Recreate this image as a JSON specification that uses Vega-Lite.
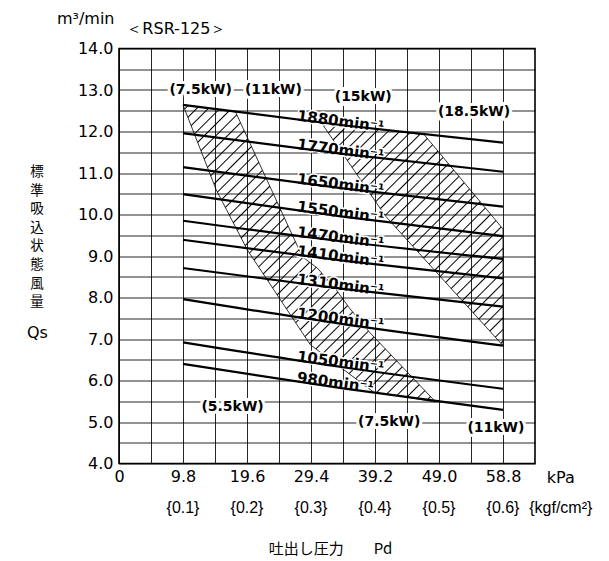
{
"$schema": "https://vega.github.io/schema/vega-lite/v6.json",
"width": 416, "height": 415,
"autosize": {"type": "none"},
"padding": {"left": 119, "top": 48.5, "right": 74, "bottom": 97.5},
"background": "white",
"config": {"view": {"stroke": "#000", "strokeWidth": 1.6}, "text": {"font": "DejaVu Sans", "color": "#000"}},
"datasets": {
"curves": [
{"c":"1880","x":9.8,"y":12.64},{"c":"1880","x":34.3,"y":12.15},{"c":"1880","x":58.8,"y":11.73},
{"c":"1770","x":9.8,"y":11.96},{"c":"1770","x":34.3,"y":11.46},{"c":"1770","x":58.8,"y":11.03},
{"c":"1650","x":9.8,"y":11.14},{"c":"1650","x":34.3,"y":10.63},{"c":"1650","x":58.8,"y":10.19},
{"c":"1550","x":9.8,"y":10.49},{"c":"1550","x":34.3,"y":9.95},{"c":"1550","x":58.8,"y":9.48},
{"c":"1470","x":9.8,"y":9.85},{"c":"1470","x":34.3,"y":9.35},{"c":"1470","x":58.8,"y":8.93},
{"c":"1410","x":9.8,"y":9.39},{"c":"1410","x":34.3,"y":8.89},{"c":"1410","x":58.8,"y":8.46},
{"c":"1310","x":9.8,"y":8.71},{"c":"1310","x":34.3,"y":8.21},{"c":"1310","x":58.8,"y":7.78},
{"c":"1200","x":9.8,"y":7.96},{"c":"1200","x":34.3,"y":7.36},{"c":"1200","x":58.8,"y":6.84},
{"c":"1050","x":9.8,"y":6.92},{"c":"1050","x":34.3,"y":6.32},{"c":"1050","x":58.8,"y":5.80},
{"c":"980","x":9.8,"y":6.40},{"c":"980","x":34.3,"y":5.81},{"c":"980","x":58.8,"y":5.29}
],
"speedLabels": [
{"t":"1880min⁻¹","x":27.2,"y":12.29},{"t":"1770min⁻¹","x":27.2,"y":11.60},{"t":"1650min⁻¹","x":27.2,"y":10.77},
{"t":"1550min⁻¹","x":27.2,"y":10.10},{"t":"1470min⁻¹","x":27.2,"y":9.49},{"t":"1410min⁻¹","x":27.2,"y":9.03},
{"t":"1310min⁻¹","x":27.2,"y":8.35},{"t":"1200min⁻¹","x":27.2,"y":7.53},{"t":"1050min⁻¹","x":27.2,"y":6.49},
{"t":"980min⁻¹","x":27.2,"y":5.98}
],
"kw": [
{"t":"(7.5kW)","x":12.5,"y":13.0},{"t":"(11kW)","x":23.65,"y":13.0},{"t":"(15kW)","x":37.4,"y":12.84},
{"t":"(18.5kW)","x":54.36,"y":12.48},{"t":"(5.5kW)","x":17.39,"y":5.35},{"t":"(7.5kW)","x":41.37,"y":5.01},
{"t":"(11kW)","x":57.72,"y":4.86}
],
"hatchA": [
{"i":0,"x":9.8,"y":12.64},{"i":1,"x":17.85,"y":12.47},{"i":2,"x":28.08,"y":8.98},{"i":3,"x":30.37,"y":8.71},
{"i":4,"x":33.28,"y":8.18},{"i":5,"x":35.26,"y":7.75},{"i":6,"x":38.32,"y":7.17},{"i":7,"x":48.5,"y":5.48},
{"i":8,"x":43.67,"y":5.61},{"i":9,"x":39.08,"y":5.71},{"i":10,"x":29.3,"y":6.86},{"i":11,"x":19.68,"y":9.14},
{"i":12,"x":14.9,"y":10.59},{"i":13,"x":9.8,"y":12.64}
],
"hatchC": [
{"i":0,"x":30.99,"y":12.21},{"i":1,"x":46.75,"y":11.92},{"i":2,"x":58.8,"y":9.65},{"i":3,"x":58.8,"y":6.84},
{"i":4,"x":40.87,"y":9.95},{"i":5,"x":30.99,"y":12.21}
],
"misc": [
{"t":"m³/min","x":-5.1,"y":14.71},{"t":"＜RSR-125＞","x":8.79,"y":14.46},{"t":"Qs","x":-12.48,"y":7.14},{"t":"kPa","x":67.65,"y":3.65}
],
"braces": [
{"t":"{0.1}","x":9.8,"y":2.93},{"t":"{0.2}","x":19.6,"y":2.93},{"t":"{0.3}","x":29.4,"y":2.93},{"t":"{0.4}","x":39.2,"y":2.93},
{"t":"{0.5}","x":49,"y":2.93},{"t":"{0.6}","x":58.8,"y":2.93},{"t":"{kgf/cm²}","x":67.65,"y":2.93}
]
},
"encoding": {
"x": {"field": "x", "type": "quantitative", "scale": {"domain": [0, 63.7], "nice": false, "zero": false},
 "axis": {"values": [0,4.9,9.8,14.7,19.6,24.5,29.4,34.3,39.2,44.1,49,53.9,58.8],
  "labelExpr": "indexof([0,9.8,19.6,29.4,39.2,49,58.8], datum.value) >= 0 ? (datum.value == 0 ? '0' : format(datum.value, '.1f')) : ''",
  "grid": true, "gridColor": "#000", "gridWidth": 1, "gridOpacity": 0.85, "domain": false, "ticks": false, "tickSize": 0,
  "labelFont": "DejaVu Sans", "labelFontSize": 16, "labelColor": "#000", "labelPadding": 5, "labelFlush": false, "labelOverlap": false, "labelBaseline": "top",
  "title": "吐出し圧力　　Pd", "titleFont": "Noto Sans CJK JP", "titleFontSize": 15, "titleFontWeight": "normal", "titleColor": "#000",
  "titleX": 211, "titleY": 84.5, "titleAlign": "center", "titleBaseline": "middle"}},
"y": {"field": "y", "type": "quantitative", "scale": {"domain": [4, 14], "nice": false, "zero": false},
 "axis": {"values": [4,4.5,5,5.5,6,6.5,7,7.5,8,8.5,9,9.5,10,10.5,11,11.5,12,12.5,13,13.5,14],
  "labelExpr": "datum.value % 1 == 0 ? format(datum.value, '.1f') : ''",
  "grid": true, "gridColor": "#000", "gridWidth": 1, "gridOpacity": 0.85, "domain": false, "ticks": false, "tickSize": 0,
  "labelFont": "DejaVu Sans", "labelFontSize": 16, "labelColor": "#000", "labelPadding": 6, "labelFlush": false, "labelOverlap": false,
  "title": ["標","準","吸","込","状","態","風","量"], "titleFont": "Noto Sans CJK JP", "titleFontSize": 13.5, "titleFontWeight": "normal", "titleColor": "#000",
  "titleAngle": 0, "titleX": -82.5, "titleY": 116, "titleAlign": "center", "titleBaseline": "top", "titleLineHeight": 18.6}}
},
"layer": [
{"data": {"name": "hatchA"},
 "mark": {"type": "line", "stroke": "#000", "strokeWidth": 0.8,
  "fill": {"gradient": "linear", "x1": 0, "y1": 0, "x2": 0.9397, "y2": 1.1048, "stops": [
{"offset":0.0075,"color":"rgba(0,0,0,0)"},{"offset":0.0100,"color":"#000"},{"offset":0.0125,"color":"rgba(0,0,0,0)"},
{"offset":0.0280,"color":"rgba(0,0,0,0)"},{"offset":0.0305,"color":"#000"},{"offset":0.0330,"color":"rgba(0,0,0,0)"},
{"offset":0.0485,"color":"rgba(0,0,0,0)"},{"offset":0.0510,"color":"#000"},{"offset":0.0535,"color":"rgba(0,0,0,0)"},
{"offset":0.0690,"color":"rgba(0,0,0,0)"},{"offset":0.0715,"color":"#000"},{"offset":0.0740,"color":"rgba(0,0,0,0)"},
{"offset":0.0895,"color":"rgba(0,0,0,0)"},{"offset":0.0920,"color":"#000"},{"offset":0.0945,"color":"rgba(0,0,0,0)"},
{"offset":0.1100,"color":"rgba(0,0,0,0)"},{"offset":0.1125,"color":"#000"},{"offset":0.1150,"color":"rgba(0,0,0,0)"},
{"offset":0.1305,"color":"rgba(0,0,0,0)"},{"offset":0.1330,"color":"#000"},{"offset":0.1355,"color":"rgba(0,0,0,0)"},
{"offset":0.1510,"color":"rgba(0,0,0,0)"},{"offset":0.1535,"color":"#000"},{"offset":0.1560,"color":"rgba(0,0,0,0)"},
{"offset":0.1715,"color":"rgba(0,0,0,0)"},{"offset":0.1740,"color":"#000"},{"offset":0.1765,"color":"rgba(0,0,0,0)"},
{"offset":0.1920,"color":"rgba(0,0,0,0)"},{"offset":0.1945,"color":"#000"},{"offset":0.1970,"color":"rgba(0,0,0,0)"},
{"offset":0.2125,"color":"rgba(0,0,0,0)"},{"offset":0.2150,"color":"#000"},{"offset":0.2175,"color":"rgba(0,0,0,0)"},
{"offset":0.2330,"color":"rgba(0,0,0,0)"},{"offset":0.2355,"color":"#000"},{"offset":0.2380,"color":"rgba(0,0,0,0)"},
{"offset":0.2535,"color":"rgba(0,0,0,0)"},{"offset":0.2560,"color":"#000"},{"offset":0.2585,"color":"rgba(0,0,0,0)"},
{"offset":0.2740,"color":"rgba(0,0,0,0)"},{"offset":0.2765,"color":"#000"},{"offset":0.2790,"color":"rgba(0,0,0,0)"},
{"offset":0.2945,"color":"rgba(0,0,0,0)"},{"offset":0.2970,"color":"#000"},{"offset":0.2995,"color":"rgba(0,0,0,0)"},
{"offset":0.3150,"color":"rgba(0,0,0,0)"},{"offset":0.3175,"color":"#000"},{"offset":0.3200,"color":"rgba(0,0,0,0)"},
{"offset":0.3355,"color":"rgba(0,0,0,0)"},{"offset":0.3380,"color":"#000"},{"offset":0.3405,"color":"rgba(0,0,0,0)"},
{"offset":0.3560,"color":"rgba(0,0,0,0)"},{"offset":0.3585,"color":"#000"},{"offset":0.3610,"color":"rgba(0,0,0,0)"},
{"offset":0.3765,"color":"rgba(0,0,0,0)"},{"offset":0.3790,"color":"#000"},{"offset":0.3815,"color":"rgba(0,0,0,0)"},
{"offset":0.3970,"color":"rgba(0,0,0,0)"},{"offset":0.3995,"color":"#000"},{"offset":0.4020,"color":"rgba(0,0,0,0)"},
{"offset":0.4175,"color":"rgba(0,0,0,0)"},{"offset":0.4200,"color":"#000"},{"offset":0.4225,"color":"rgba(0,0,0,0)"},
{"offset":0.4380,"color":"rgba(0,0,0,0)"},{"offset":0.4405,"color":"#000"},{"offset":0.4430,"color":"rgba(0,0,0,0)"},
{"offset":0.4585,"color":"rgba(0,0,0,0)"},{"offset":0.4610,"color":"#000"},{"offset":0.4635,"color":"rgba(0,0,0,0)"},
{"offset":0.4790,"color":"rgba(0,0,0,0)"},{"offset":0.4815,"color":"#000"},{"offset":0.4840,"color":"rgba(0,0,0,0)"},
{"offset":0.4995,"color":"rgba(0,0,0,0)"},{"offset":0.5020,"color":"#000"},{"offset":0.5045,"color":"rgba(0,0,0,0)"},
{"offset":0.5200,"color":"rgba(0,0,0,0)"},{"offset":0.5225,"color":"#000"},{"offset":0.5250,"color":"rgba(0,0,0,0)"},
{"offset":0.5405,"color":"rgba(0,0,0,0)"},{"offset":0.5430,"color":"#000"},{"offset":0.5455,"color":"rgba(0,0,0,0)"},
{"offset":0.5610,"color":"rgba(0,0,0,0)"},{"offset":0.5635,"color":"#000"},{"offset":0.5660,"color":"rgba(0,0,0,0)"},
{"offset":0.5815,"color":"rgba(0,0,0,0)"},{"offset":0.5840,"color":"#000"},{"offset":0.5865,"color":"rgba(0,0,0,0)"},
{"offset":0.6020,"color":"rgba(0,0,0,0)"},{"offset":0.6045,"color":"#000"},{"offset":0.6070,"color":"rgba(0,0,0,0)"},
{"offset":0.6225,"color":"rgba(0,0,0,0)"},{"offset":0.6250,"color":"#000"},{"offset":0.6275,"color":"rgba(0,0,0,0)"},
{"offset":0.6430,"color":"rgba(0,0,0,0)"},{"offset":0.6455,"color":"#000"},{"offset":0.6480,"color":"rgba(0,0,0,0)"},
{"offset":0.6635,"color":"rgba(0,0,0,0)"},{"offset":0.6660,"color":"#000"},{"offset":0.6685,"color":"rgba(0,0,0,0)"},
{"offset":0.6840,"color":"rgba(0,0,0,0)"},{"offset":0.6865,"color":"#000"},{"offset":0.6890,"color":"rgba(0,0,0,0)"},
{"offset":0.7045,"color":"rgba(0,0,0,0)"},{"offset":0.7070,"color":"#000"},{"offset":0.7095,"color":"rgba(0,0,0,0)"},
{"offset":0.7250,"color":"rgba(0,0,0,0)"},{"offset":0.7275,"color":"#000"},{"offset":0.7300,"color":"rgba(0,0,0,0)"},
{"offset":0.7455,"color":"rgba(0,0,0,0)"},{"offset":0.7480,"color":"#000"},{"offset":0.7505,"color":"rgba(0,0,0,0)"},
{"offset":0.7660,"color":"rgba(0,0,0,0)"},{"offset":0.7685,"color":"#000"},{"offset":0.7710,"color":"rgba(0,0,0,0)"},
{"offset":0.7865,"color":"rgba(0,0,0,0)"},{"offset":0.7890,"color":"#000"},{"offset":0.7915,"color":"rgba(0,0,0,0)"},
{"offset":0.8070,"color":"rgba(0,0,0,0)"},{"offset":0.8095,"color":"#000"},{"offset":0.8120,"color":"rgba(0,0,0,0)"},
{"offset":0.8275,"color":"rgba(0,0,0,0)"},{"offset":0.8300,"color":"#000"},{"offset":0.8325,"color":"rgba(0,0,0,0)"},
{"offset":0.8480,"color":"rgba(0,0,0,0)"},{"offset":0.8505,"color":"#000"},{"offset":0.8530,"color":"rgba(0,0,0,0)"},
{"offset":0.8685,"color":"rgba(0,0,0,0)"},{"offset":0.8710,"color":"#000"},{"offset":0.8735,"color":"rgba(0,0,0,0)"},
{"offset":0.8890,"color":"rgba(0,0,0,0)"},{"offset":0.8915,"color":"#000"},{"offset":0.8940,"color":"rgba(0,0,0,0)"},
{"offset":0.9095,"color":"rgba(0,0,0,0)"},{"offset":0.9120,"color":"#000"},{"offset":0.9145,"color":"rgba(0,0,0,0)"},
{"offset":0.9300,"color":"rgba(0,0,0,0)"},{"offset":0.9325,"color":"#000"},{"offset":0.9350,"color":"rgba(0,0,0,0)"},
{"offset":0.9505,"color":"rgba(0,0,0,0)"},{"offset":0.9530,"color":"#000"},{"offset":0.9555,"color":"rgba(0,0,0,0)"},
{"offset":0.9710,"color":"rgba(0,0,0,0)"},{"offset":0.9735,"color":"#000"},{"offset":0.9760,"color":"rgba(0,0,0,0)"}
  ]}},
 "encoding": {"order": {"field": "i", "type": "quantitative"}}},
{"data": {"name": "hatchC"},
 "mark": {"type": "line", "stroke": "#000", "strokeWidth": 0.8,
  "fill": {"gradient": "linear", "x1": 0, "y1": 0, "x2": 1.2428, "y2": 1.5254, "stops": [
{"offset":0.0075,"color":"rgba(0,0,0,0)"},{"offset":0.0100,"color":"#000"},{"offset":0.0125,"color":"rgba(0,0,0,0)"},
{"offset":0.0280,"color":"rgba(0,0,0,0)"},{"offset":0.0305,"color":"#000"},{"offset":0.0330,"color":"rgba(0,0,0,0)"},
{"offset":0.0485,"color":"rgba(0,0,0,0)"},{"offset":0.0510,"color":"#000"},{"offset":0.0535,"color":"rgba(0,0,0,0)"},
{"offset":0.0690,"color":"rgba(0,0,0,0)"},{"offset":0.0715,"color":"#000"},{"offset":0.0740,"color":"rgba(0,0,0,0)"},
{"offset":0.0895,"color":"rgba(0,0,0,0)"},{"offset":0.0920,"color":"#000"},{"offset":0.0945,"color":"rgba(0,0,0,0)"},
{"offset":0.1100,"color":"rgba(0,0,0,0)"},{"offset":0.1125,"color":"#000"},{"offset":0.1150,"color":"rgba(0,0,0,0)"},
{"offset":0.1305,"color":"rgba(0,0,0,0)"},{"offset":0.1330,"color":"#000"},{"offset":0.1355,"color":"rgba(0,0,0,0)"},
{"offset":0.1510,"color":"rgba(0,0,0,0)"},{"offset":0.1535,"color":"#000"},{"offset":0.1560,"color":"rgba(0,0,0,0)"},
{"offset":0.1715,"color":"rgba(0,0,0,0)"},{"offset":0.1740,"color":"#000"},{"offset":0.1765,"color":"rgba(0,0,0,0)"},
{"offset":0.1920,"color":"rgba(0,0,0,0)"},{"offset":0.1945,"color":"#000"},{"offset":0.1970,"color":"rgba(0,0,0,0)"},
{"offset":0.2125,"color":"rgba(0,0,0,0)"},{"offset":0.2150,"color":"#000"},{"offset":0.2175,"color":"rgba(0,0,0,0)"},
{"offset":0.2330,"color":"rgba(0,0,0,0)"},{"offset":0.2355,"color":"#000"},{"offset":0.2380,"color":"rgba(0,0,0,0)"},
{"offset":0.2535,"color":"rgba(0,0,0,0)"},{"offset":0.2560,"color":"#000"},{"offset":0.2585,"color":"rgba(0,0,0,0)"},
{"offset":0.2740,"color":"rgba(0,0,0,0)"},{"offset":0.2765,"color":"#000"},{"offset":0.2790,"color":"rgba(0,0,0,0)"},
{"offset":0.2945,"color":"rgba(0,0,0,0)"},{"offset":0.2970,"color":"#000"},{"offset":0.2995,"color":"rgba(0,0,0,0)"},
{"offset":0.3150,"color":"rgba(0,0,0,0)"},{"offset":0.3175,"color":"#000"},{"offset":0.3200,"color":"rgba(0,0,0,0)"},
{"offset":0.3355,"color":"rgba(0,0,0,0)"},{"offset":0.3380,"color":"#000"},{"offset":0.3405,"color":"rgba(0,0,0,0)"},
{"offset":0.3560,"color":"rgba(0,0,0,0)"},{"offset":0.3585,"color":"#000"},{"offset":0.3610,"color":"rgba(0,0,0,0)"},
{"offset":0.3765,"color":"rgba(0,0,0,0)"},{"offset":0.3790,"color":"#000"},{"offset":0.3815,"color":"rgba(0,0,0,0)"},
{"offset":0.3970,"color":"rgba(0,0,0,0)"},{"offset":0.3995,"color":"#000"},{"offset":0.4020,"color":"rgba(0,0,0,0)"},
{"offset":0.4175,"color":"rgba(0,0,0,0)"},{"offset":0.4200,"color":"#000"},{"offset":0.4225,"color":"rgba(0,0,0,0)"},
{"offset":0.4380,"color":"rgba(0,0,0,0)"},{"offset":0.4405,"color":"#000"},{"offset":0.4430,"color":"rgba(0,0,0,0)"},
{"offset":0.4585,"color":"rgba(0,0,0,0)"},{"offset":0.4610,"color":"#000"},{"offset":0.4635,"color":"rgba(0,0,0,0)"},
{"offset":0.4790,"color":"rgba(0,0,0,0)"},{"offset":0.4815,"color":"#000"},{"offset":0.4840,"color":"rgba(0,0,0,0)"},
{"offset":0.4995,"color":"rgba(0,0,0,0)"},{"offset":0.5020,"color":"#000"},{"offset":0.5045,"color":"rgba(0,0,0,0)"},
{"offset":0.5200,"color":"rgba(0,0,0,0)"},{"offset":0.5225,"color":"#000"},{"offset":0.5250,"color":"rgba(0,0,0,0)"},
{"offset":0.5405,"color":"rgba(0,0,0,0)"},{"offset":0.5430,"color":"#000"},{"offset":0.5455,"color":"rgba(0,0,0,0)"},
{"offset":0.5610,"color":"rgba(0,0,0,0)"},{"offset":0.5635,"color":"#000"},{"offset":0.5660,"color":"rgba(0,0,0,0)"},
{"offset":0.5815,"color":"rgba(0,0,0,0)"},{"offset":0.5840,"color":"#000"},{"offset":0.5865,"color":"rgba(0,0,0,0)"},
{"offset":0.6020,"color":"rgba(0,0,0,0)"},{"offset":0.6045,"color":"#000"},{"offset":0.6070,"color":"rgba(0,0,0,0)"},
{"offset":0.6225,"color":"rgba(0,0,0,0)"},{"offset":0.6250,"color":"#000"},{"offset":0.6275,"color":"rgba(0,0,0,0)"},
{"offset":0.6430,"color":"rgba(0,0,0,0)"},{"offset":0.6455,"color":"#000"},{"offset":0.6480,"color":"rgba(0,0,0,0)"},
{"offset":0.6635,"color":"rgba(0,0,0,0)"},{"offset":0.6660,"color":"#000"},{"offset":0.6685,"color":"rgba(0,0,0,0)"},
{"offset":0.6840,"color":"rgba(0,0,0,0)"},{"offset":0.6865,"color":"#000"},{"offset":0.6890,"color":"rgba(0,0,0,0)"},
{"offset":0.7045,"color":"rgba(0,0,0,0)"},{"offset":0.7070,"color":"#000"},{"offset":0.7095,"color":"rgba(0,0,0,0)"},
{"offset":0.7250,"color":"rgba(0,0,0,0)"},{"offset":0.7275,"color":"#000"},{"offset":0.7300,"color":"rgba(0,0,0,0)"}
  ]}},
 "encoding": {"order": {"field": "i", "type": "quantitative"}}},
{"data": {"name": "speedLabels"},
 "mark": {"type": "text", "font": "DejaVu Sans", "fontWeight": "bold", "fontSize": 15, "align": "left", "baseline": "alphabetic", "angle": 7.5, "dy": 1, "fill": "white", "stroke": "white", "strokeWidth": 3},
 "encoding": {"text": {"field": "t"}}},
{"data": {"name": "curves"},
 "mark": {"type": "line", "interpolate": "monotone", "stroke": "#000", "strokeWidth": 2.2},
 "encoding": {"detail": {"field": "c"}}},
{"data": {"name": "speedLabels"},
 "mark": {"type": "text", "font": "DejaVu Sans", "fontWeight": "bold", "fontSize": 15, "align": "left", "baseline": "alphabetic", "angle": 7.5, "dy": 1, "fill": "#000"},
 "encoding": {"text": {"field": "t"}}},
{"data": {"name": "kw"},
 "mark": {"type": "text", "font": "DejaVu Sans", "fontWeight": "bold", "fontSize": 14, "align": "center", "baseline": "middle", "fill": "white", "stroke": "white", "strokeWidth": 6},
 "encoding": {"text": {"field": "t"}}},
{"data": {"name": "kw"},
 "mark": {"type": "text", "font": "DejaVu Sans", "fontWeight": "bold", "fontSize": 14, "align": "center", "baseline": "middle", "fill": "#000"},
 "encoding": {"text": {"field": "t"}}},
{"data": {"name": "misc"},
 "mark": {"type": "text", "font": "DejaVu Sans", "fontSize": 16, "align": "center", "baseline": "middle", "fill": "#000"},
 "encoding": {"text": {"field": "t"}}},
{"data": {"name": "braces"},
 "mark": {"type": "text", "font": "Liberation Sans", "fontSize": 16, "align": "center", "baseline": "middle", "fill": "#000"},
 "encoding": {"text": {"field": "t"}}}
]
}
